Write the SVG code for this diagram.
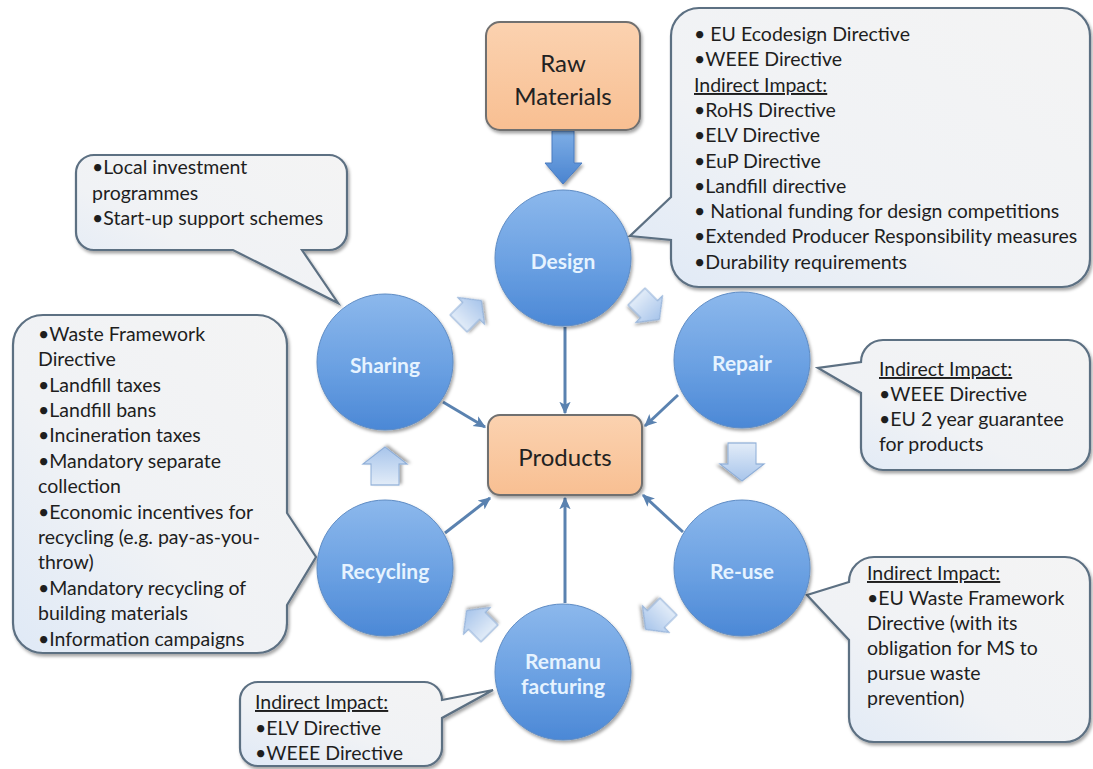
<svg xmlns="http://www.w3.org/2000/svg" width="1093" height="769" viewBox="0 0 1093 769">
<defs>
  <linearGradient id="gCircle" x1="0" y1="0" x2="0" y2="1">
    <stop offset="0" stop-color="#8cb8ec"/>
    <stop offset="0.55" stop-color="#6aa0e2"/>
    <stop offset="1" stop-color="#4b88d6"/>
  </linearGradient>
  <linearGradient id="gBox" x1="0" y1="0" x2="0" y2="1">
    <stop offset="0" stop-color="#fbd2b0"/>
    <stop offset="1" stop-color="#f8bf92"/>
  </linearGradient>
  <linearGradient id="gCall" x1="1" y1="0" x2="0" y2="1">
    <stop offset="0" stop-color="#f4f4f4"/>
    <stop offset="0.6" stop-color="#f0f2f5"/>
    <stop offset="1" stop-color="#dfe9f6"/>
  </linearGradient>
  <linearGradient id="gBlock" x1="0" y1="0" x2="1" y2="0">
    <stop offset="0" stop-color="#e2ecf8"/>
    <stop offset="1" stop-color="#a8c5eb"/>
  </linearGradient>
  <linearGradient id="gRaw" x1="0" y1="0" x2="0" y2="1">
    <stop offset="0" stop-color="#7eaee6"/>
    <stop offset="1" stop-color="#4a84d0"/>
  </linearGradient>
  <filter id="sh" x="-20%" y="-20%" width="140%" height="140%">
    <feDropShadow dx="1.5" dy="2.5" stdDeviation="1.8" flood-color="#000" flood-opacity="0.35"/>
  </filter>
  <marker id="ah" viewBox="0 0 10 10" refX="9" refY="5" markerWidth="4.2" markerHeight="4.2" orient="auto" markerUnits="strokeWidth">
    <path d="M0,0.5 L10,5 L0,9.5 L2.5,5 Z" fill="#5a82b0"/>
  </marker>
  <path id="blk" d="M -19,-14 H 2 V -22 L 19,0 L 2,22 V 14 H -19 Z"/>
  <style>
    .circ { fill: url(#gCircle); stroke: #5f8cc4; stroke-width: 1; filter: url(#sh); }
    .box { fill: url(#gBox); stroke: #6f6f6f; stroke-width: 2; filter: url(#sh); }
    .call { fill: url(#gCall); stroke: #5c6f82; stroke-width: 2.2; filter: url(#sh); }
    .lbl { font-family: Lato, "Liberation Sans", sans-serif; font-weight: bold; font-size: 21px; fill: #e6f3ff; text-anchor: middle; }
    .btxt { font-family: Lato, "Liberation Sans", sans-serif; font-size: 24px; fill: #222; text-anchor: middle; }
    .ct { font-family: Lato, "Liberation Sans", sans-serif; font-size: 19.5px; fill: #1e1e1e; }
    .ul { text-decoration: underline; }
    .conn { stroke: #5a82b0; stroke-width: 3; fill: none; marker-end: url(#ah); }
    .blk { fill: url(#gBlock); stroke: #8eaed8; stroke-width: 1.2; filter: url(#sh); }
  </style>
</defs>
<rect width="1093" height="769" fill="#ffffff"/>

<!-- callouts -->
<g id="callout-design">
  <path class="call" d="M 699,8 H 1062 A 28 28 0 0 1 1090,36 V 259 A 28 28 0 0 1 1062,287 H 699 A 28 28 0 0 1 671,259 V 240 L 630,236 L 671,197 V 36 A 28 28 0 0 1 699,8 Z"/>
  <text class="ct" x="694" y="41">• EU Ecodesign Directive</text>
  <text class="ct" x="694" y="66">•WEEE Directive</text>
  <text class="ct ul" x="694" y="92">Indirect Impact:</text>
  <text class="ct" x="694" y="117">•RoHS Directive</text>
  <text class="ct" x="694" y="142">•ELV Directive</text>
  <text class="ct" x="694" y="168">•EuP Directive</text>
  <text class="ct" x="694" y="193">•Landfill directive</text>
  <text class="ct" x="694" y="218">• National funding for design competitions</text>
  <text class="ct" x="694" y="243">•Extended Producer Responsibility measures</text>
  <text class="ct" x="694" y="269">•Durability requirements</text>
</g>
<g id="callout-sharing">
  <path class="call" d="M 94,155 H 329 A 18 18 0 0 1 347,173 V 232 A 18 18 0 0 1 329,250 H 302 L 338,303 L 233,250 H 94 A 18 18 0 0 1 76,232 V 173 A 18 18 0 0 1 94,155 Z"/>
  <text class="ct" x="92" y="174">•Local investment</text>
  <text class="ct" x="92" y="200">programmes</text>
  <text class="ct" x="92" y="225">•Start-up support schemes</text>
</g>
<g id="callout-recycling">
  <path class="call" d="M 43,315 H 257 A 30 30 0 0 1 287,345 V 513 L 316,557 L 287,605 V 623 A 30 30 0 0 1 257,653 H 43 A 30 30 0 0 1 13,623 V 345 A 30 30 0 0 1 43,315 Z"/>
  <text class="ct" x="38" y="341">•Waste Framework</text>
  <text class="ct" x="38" y="366">Directive</text>
  <text class="ct" x="38" y="392">•Landfill taxes</text>
  <text class="ct" x="38" y="417">•Landfill bans</text>
  <text class="ct" x="38" y="442">•Incineration taxes</text>
  <text class="ct" x="38" y="468">•Mandatory separate</text>
  <text class="ct" x="38" y="493">collection</text>
  <text class="ct" x="38" y="519">•Economic incentives for</text>
  <text class="ct" x="38" y="544">recycling (e.g. pay-as-you-</text>
  <text class="ct" x="38" y="569">throw)</text>
  <text class="ct" x="38" y="595">•Mandatory recycling of</text>
  <text class="ct" x="38" y="620">building materials</text>
  <text class="ct" x="38" y="646">•Information campaigns</text>
</g>
<g id="callout-repair">
  <path class="call" d="M 883,340 H 1068 A 22 22 0 0 1 1090,362 V 448 A 22 22 0 0 1 1068,470 H 883 A 22 22 0 0 1 861,448 V 393 L 818,368 L 861,362 A 22 22 0 0 1 883,340 Z"/>
  <text class="ct ul" x="879" y="376">Indirect Impact:</text>
  <text class="ct" x="879" y="401">•WEEE Directive</text>
  <text class="ct" x="879" y="426">•EU 2 year guarantee</text>
  <text class="ct" x="879" y="451">for products</text>
</g>
<g id="callout-reuse">
  <path class="call" d="M 874,557 H 1065 A 25 25 0 0 1 1090,582 V 717 A 25 25 0 0 1 1065,742 H 874 A 25 25 0 0 1 849,717 V 640 L 807,595 L 849,582 A 25 25 0 0 1 874,557 Z"/>
  <text class="ct ul" x="867" y="580">Indirect Impact:</text>
  <text class="ct" x="867" y="605">•EU Waste Framework</text>
  <text class="ct" x="867" y="630">Directive (with its</text>
  <text class="ct" x="867" y="655">obligation for MS to</text>
  <text class="ct" x="867" y="680">pursue waste</text>
  <text class="ct" x="867" y="705">prevention)</text>
</g>
<g id="callout-remanufacturing">
  <path class="call" d="M 258,682 H 424 A 18 18 0 0 1 442,700 L 493,690 L 442,718 V 748 A 18 18 0 0 1 424,766 H 258 A 18 18 0 0 1 240,748 V 700 A 18 18 0 0 1 258,682 Z"/>
  <text class="ct ul" x="255" y="709">Indirect Impact:</text>
  <text class="ct" x="255" y="735">•ELV Directive</text>
  <text class="ct" x="255" y="760">•WEEE Directive</text>
</g>

<!-- connectors -->
<g id="connectors">
  <path class="conn" d="M 565,327 L 565,413"/>
  <path class="conn" d="M 443,402 L 485,427"/>
  <path class="conn" d="M 678,395 L 645,426"/>
  <path class="conn" d="M 445,533 L 490,498"/>
  <path class="conn" d="M 683,532 L 643,495"/>
  <path class="conn" d="M 565,603 L 565,498"/>
  <path d="M 552,131 H 574 V 163 H 582 L 563,184 L 545,163 H 552 Z" fill="url(#gRaw)" stroke="#4a7cc0" stroke-width="1" filter="url(#sh)"/>
  <use href="#blk" class="blk" transform="translate(742,462) rotate(90)"/>
  <use href="#blk" class="blk" transform="translate(385,466) rotate(-90)"/>
  <use href="#blk" class="blk" transform="translate(470,312) rotate(-45) scale(0.85)"/>
  <use href="#blk" class="blk" transform="translate(648,308) rotate(45) scale(0.85)"/>
  <use href="#blk" class="blk" transform="translate(657,618) rotate(135) scale(0.85)"/>
  <use href="#blk" class="blk" transform="translate(478,622) rotate(-135) scale(0.85)"/>
</g>

<!-- nodes -->
<g id="raw-materials">
  <rect class="box" x="486" y="22" width="154" height="108" rx="14"/>
  <text class="btxt" x="563" y="72">Raw</text>
  <text class="btxt" x="563" y="105">Materials</text>
</g>
<g id="products">
  <rect class="box" x="488" y="415" width="154" height="80" rx="12"/>
  <text class="btxt" x="565" y="466">Products</text>
</g>
<g id="design">
  <circle class="circ" cx="563" cy="258" r="68"/>
  <text class="lbl" x="563" y="269">Design</text>
</g>
<g id="repair">
  <circle class="circ" cx="742" cy="360" r="68"/>
  <text class="lbl" x="742" y="371">Repair</text>
</g>
<g id="reuse">
  <circle class="circ" cx="742" cy="568" r="68"/>
  <text class="lbl" x="742" y="579">Re-use</text>
</g>
<g id="remanufacturing">
  <circle class="circ" cx="563" cy="672" r="68"/>
  <text class="lbl" x="563" y="669">Remanu</text>
  <text class="lbl" x="563" y="694">facturing</text>
</g>
<g id="recycling">
  <circle class="circ" cx="385" cy="568" r="68"/>
  <text class="lbl" x="385" y="579">Recycling</text>
</g>
<g id="sharing">
  <circle class="circ" cx="385" cy="362" r="68"/>
  <text class="lbl" x="385" y="373">Sharing</text>
</g>
</svg>
